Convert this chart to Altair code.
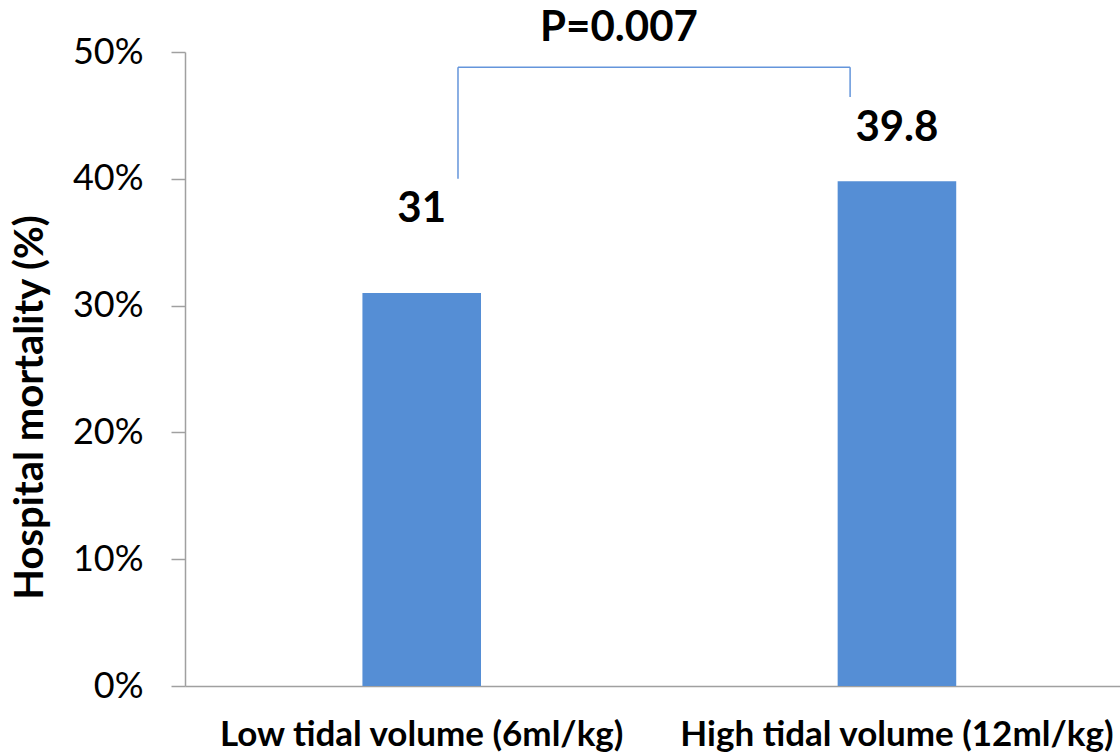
import altair as alt
import pandas as pd

# ---- data ----
categories = ["Low tidal volume (6ml/kg)", "High tidal volume (12ml/kg)"]
mortality = [31.0, 39.8]
value_labels = ["31", "39.8"]
y_ticks = [0, 10, 20, 30, 40, 50]

# significance bracket (in % units)
p_label = "P=0.007"
bracket_top = 48.8
bracket_left_bottom = 40.0
bracket_right_bottom = 46.45
p_label_y = 51.9

FONT = "Lato"
BAR_COLOR = "#558ED5"
LINE_COLOR = "#6495DB"
AXIS_COLOR = "#A0A0A0"

df = pd.DataFrame({"group": categories, "mortality": mortality, "label": value_labels})

x_scale = alt.Scale(domain=categories, paddingInner=0.7505, paddingOuter=0.359, align=0.52)
y_scale = alt.Scale(domain=[0, 50])

base = alt.Chart(df)

bars = base.mark_bar(color=BAR_COLOR).encode(
    x=alt.X("group:N", scale=x_scale, sort=categories, title=None,
            axis=alt.Axis(labelAngle=0, labelFont=FONT, labelFontSize=35, labelFontWeight="bold",
                          labelColor="black", ticks=False, domainColor=AXIS_COLOR, domainWidth=1.5,
                          labelPadding=31, labelLimit=0, grid=False)),
    y=alt.Y("mortality:Q", scale=y_scale, title="Hospital mortality (%)",
            axis=alt.Axis(values=y_ticks, labelExpr="datum.value + '%'", labelFont=FONT,
                          labelFontSize=36, labelColor="black", tickSize=14, tickColor=AXIS_COLOR,
                          tickWidth=1.5, domainColor=AXIS_COLOR, domainWidth=1.5, labelPadding=28,
                          grid=False, titleFont=FONT, titleFontSize=40, titleFontWeight="bold",
                          titleColor="black", titleX=-135, titleY=355, titleAngle=-90,
                          titleBaseline="bottom", titleAlign="center")),
)

lab1 = base.transform_filter(alt.datum.group == categories[0]).mark_text(
    font=FONT, fontSize=42, fontWeight="bold", color="black", baseline="bottom", dy=-62
).encode(x=alt.X("group:N"), y=alt.Y("mortality:Q"), text="label:N")

lab2 = base.transform_filter(alt.datum.group == categories[1]).mark_text(
    font=FONT, fontSize=42, fontWeight="bold", color="black", baseline="bottom", dy=-31
).encode(x=alt.X("group:N"), y=alt.Y("mortality:Q"), text="label:N")

left_df = pd.DataFrame({"group": [categories[0]], "y": [bracket_left_bottom], "y2": [bracket_top]})
right_df = pd.DataFrame({"group": [categories[1]], "y": [bracket_right_bottom], "y2": [bracket_top]})
top_df = pd.DataFrame({"g1": [categories[0]], "g2": [categories[1]], "y": [bracket_top]})
p_df = pd.DataFrame({"group": [categories[0]], "y": [p_label_y], "text": [p_label]})

left_rule = alt.Chart(left_df).mark_rule(color=LINE_COLOR, strokeWidth=1.5).encode(
    x=alt.X("group:N", bandPosition=0.806), y="y:Q", y2="y2:Q")
right_rule = alt.Chart(right_df).mark_rule(color=LINE_COLOR, strokeWidth=1.5).encode(
    x=alt.X("group:N", bandPosition=0.105), y="y:Q", y2="y2:Q")
top_rule = alt.Chart(top_df).mark_rule(color=LINE_COLOR, strokeWidth=1.5).encode(
    x=alt.X("g1:N", bandPosition=0.806), x2=alt.X2("g2", bandPosition=0.105), y="y:Q")
p_text = alt.Chart(p_df).mark_text(
    font=FONT, fontSize=42, fontWeight="bold", color="black", baseline="middle", align="center",
    dx=161
).encode(x=alt.X("group:N", bandPosition=0.806), y="y:Q", text="text:N")

chart = alt.layer(bars, lab1, lab2, left_rule, right_rule, top_rule, p_text).properties(
    width=935, height=634,
    autosize=alt.AutoSizeParams(type="none"),
    padding={"left": 185, "top": 52, "right": 0, "bottom": 66},
    background="white",
).configure_view(stroke=None)

chart.save("out.html", embed_options={"renderer": "svg", "actions": False})
